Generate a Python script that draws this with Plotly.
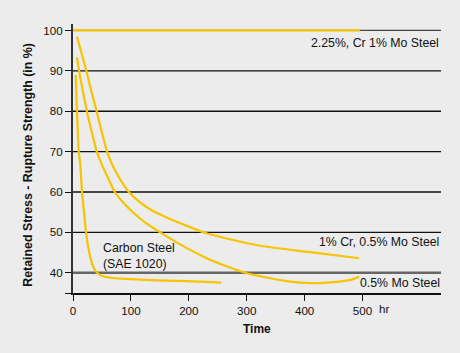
import plotly.graph_objects as go

# ---- data ----
cr225_x = [0, 496]
cr225_y = [100, 100]

cr1_x = [6.9, 14.7, 23.7, 32.0, 41.0, 49.3, 58.8, 65.7, 76.0, 86.4, 96.8, 115.8, 133.1,
         159.0, 193.6, 225.2, 271.3, 323.2, 409.6, 494.3]
cr1_y = [98.47, 94.43, 89.65, 84.78, 79.90, 75.12, 70.0, 67.45, 64.48, 62.0, 59.95, 57.45,
         55.75, 53.9, 51.8, 50.05, 48.3, 46.7, 45.1, 43.6]

mo05_x = [6.9, 10.9, 17.3, 24.2, 32.0, 41.0, 50.1, 60.5, 72.6, 89.9, 107.2, 127.9, 150.4,
          185.0, 229.9, 262.7, 300.2, 323.2, 366.2, 409.6, 455.8, 478.7, 494.3]
mo05_y = [93.37, 89.65, 84.78, 79.90, 75.12, 70.0, 66.71, 63.49, 59.95, 56.9, 54.5, 52.1,
          50.05, 47.03, 43.69, 41.76, 39.90, 39.16, 38.0, 37.43, 37.75, 38.24, 38.99]

carbon_x = [4.7, 5.7, 6.9, 8.3, 9.9, 12.6, 15.6, 19.0, 22.5, 25.9, 31.1, 36.3, 42.7, 48.4,
            57.0, 72.6, 91.6, 124.4, 160.7, 229.9, 255.8]
carbon_y = [88.99, 84.53, 79.90, 75.12, 70.0, 66.71, 59.95, 55.07, 50.05, 46.66, 43.19, 41.09,
            39.90, 39.36, 38.99, 38.66, 38.49, 38.24, 38.07, 37.75, 37.57]

x_ticks = [0, 100, 200, 300, 400, 500]
y_ticks = [35, 40, 50, 60, 70, 80, 90, 100]
y_ticktext = ["", "40", "50", "60", "70", "80", "90", "100"]
grid_vals = [50, 60, 70, 80, 90]

FONT = "Liberation Sans, Arial, Helvetica, sans-serif"
YEL = "#f6c400"
BG = "#ececec"
TXT = "#111111"

fig = go.Figure()
for xs, ys in [(cr225_x, cr225_y), (cr1_x, cr1_y), (mo05_x, mo05_y), (carbon_x, carbon_y)]:
    fig.add_trace(go.Scatter(x=xs, y=ys, mode="lines",
                             line=dict(color=YEL, width=2.2, shape="spline", smoothing=0.8),
                             showlegend=False, hoverinfo="skip"))

shapes = []
for v in grid_vals:
    shapes.append(dict(type="line", xref="paper", x0=0, x1=1, yref="y", y0=v, y1=v,
                       line=dict(color=TXT, width=1.3), layer="below"))
shapes.append(dict(type="line", xref="paper", x0=0, x1=1, yref="y", y0=40, y1=40,
                   line=dict(color="#666666", width=2.6), layer="below"))
shapes.append(dict(type="line", xref="paper", x0=0, x1=1, yref="y", y0=100, y1=100,
                   line=dict(color="#444444", width=1.3), layer="below"))

lab = dict(family=FONT, size=12.3, color=TXT)
annotations = [
    dict(text="2.25%, Cr 1% Mo Steel", x=1.0, y=96.8, xref="paper", yref="y",
         xanchor="right", yanchor="middle", showarrow=False, font=lab),
    dict(text="1% Cr, 0.5% Mo Steel", x=1.0, y=47.6, xref="paper", yref="y",
         xanchor="right", yanchor="middle", showarrow=False, font=lab),
    dict(text="0.5% Mo Steel", x=1.004, y=37.6, xref="paper", yref="y",
         xanchor="right", yanchor="middle", showarrow=False, font=lab),
    dict(text="Carbon Steel<br>(SAE 1020)", x=47.9, y=44.1, xref="x", yref="y",
         xanchor="left", yanchor="middle", align="left", showarrow=False, font=lab),
    dict(text="hr", x=(384 - 73) / 367.7, y=(293.3 - 309.3) / 269.3, xref="paper", yref="paper",
         xanchor="center", yanchor="middle", showarrow=False,
         font=dict(family=FONT, size=11.6, color=TXT)),
    dict(text="<b>Time</b>", x=(256.7 - 73) / 367.7, y=(293.3 - 329.3) / 269.3,
         xref="paper", yref="paper", xanchor="center", yanchor="middle", showarrow=False,
         font=dict(family=FONT, size=12, color=TXT)),
    dict(text="<b>Retained Stress - Rupture Strength (in %)</b>", textangle=-90,
         x=(28 - 73) / 367.7, y=(293.3 - 165) / 269.3, xref="paper", yref="paper",
         xanchor="center", yanchor="middle", showarrow=False,
         font=dict(family=FONT, size=12.4, color=TXT)),
]

fig.update_layout(
    width=460, height=353,
    margin=dict(l=73, r=19.3, t=24, b=59.7),
    paper_bgcolor=BG, plot_bgcolor=BG,
    font=dict(family=FONT, size=11.6, color=TXT),
    shapes=shapes, annotations=annotations,
    xaxis=dict(range=[0, 635.5], tickvals=x_ticks, ticks="outside", ticklen=6,
               tickcolor=TXT, tickwidth=1.2, showgrid=False, zeroline=False,
               showline=True, linecolor=TXT, linewidth=1.5,
               tickfont=dict(family=FONT, size=11.6, color=TXT)),
    yaxis=dict(range=[35, 101.6], tickvals=y_ticks, ticktext=y_ticktext,
               ticks="outside", ticklen=6, tickcolor=TXT, tickwidth=1.2,
               showgrid=False, zeroline=False, showline=True, linecolor="#333333",
               linewidth=2, tickfont=dict(family=FONT, size=11.6, color=TXT)),
)

fig.write_html("out.html")
